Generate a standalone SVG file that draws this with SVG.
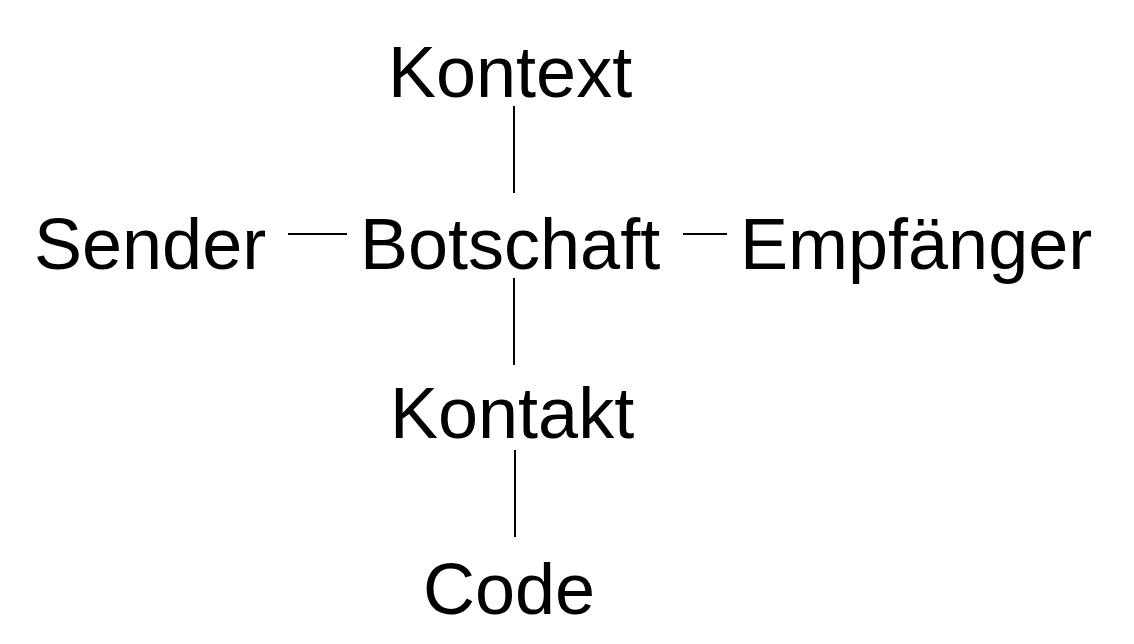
<svg xmlns="http://www.w3.org/2000/svg" width="1134" height="644" viewBox="0 0 1134 644">
<style>
  text { font-family: "Liberation Sans", Arial, sans-serif; font-size: 72px; fill: #000; }
  .c line { stroke: #000; stroke-width: 2; }
</style>
<rect width="1134" height="644" fill="#fff"/>
<g id="kontext"><text x="388" y="97">Kontext</text></g>
<g id="sender"><text x="34" y="269">Sender</text></g>
<g id="botschaft"><text x="360" y="269">Botschaft</text></g>
<g id="empfaenger"><text x="740" y="269">Empfänger</text></g>
<g id="kontakt"><text x="390" y="438">Kontakt</text></g>
<g id="code"><text x="423" y="614">Code</text></g>
<g class="c" id="connectors">
  <line x1="514" y1="106" x2="514" y2="193"/>
  <line x1="288" y1="234" x2="347" y2="234"/>
  <line x1="683" y1="234" x2="727" y2="234"/>
  <line x1="514" y1="278" x2="514" y2="365"/>
  <line x1="515" y1="450" x2="515" y2="537"/>
</g>
</svg>
